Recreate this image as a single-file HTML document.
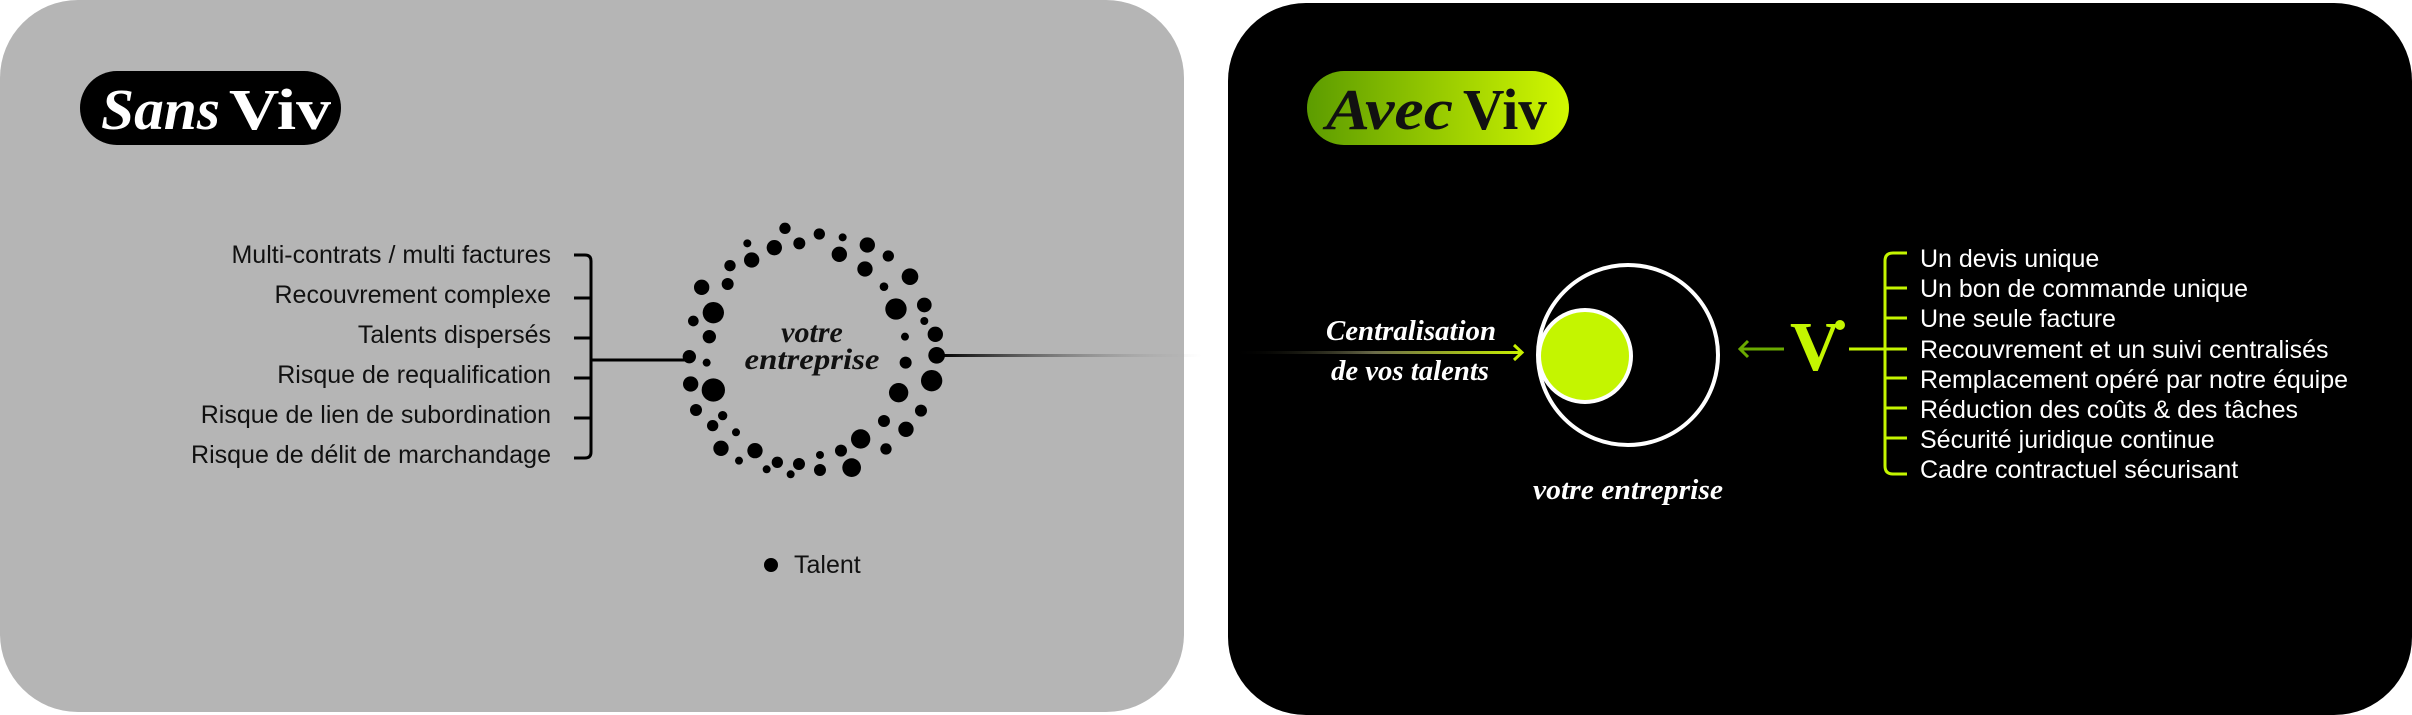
<!DOCTYPE html>
<html><head><meta charset="utf-8"><style>
html,body{margin:0;padding:0;background:#fff;}
body{width:2412px;height:715px;overflow:hidden;position:relative;}
svg{position:absolute;left:0;top:0;}
.s{font-family:"Liberation Sans",sans-serif;font-size:25px;}
.d{font-family:"Liberation Serif",serif;font-style:italic;font-weight:bold;}
</style></head><body>
<svg width="2412" height="715" viewBox="0 0 2412 715">
<defs>
<linearGradient id="pill" x1="0" x2="1" y1="0" y2="0">
<stop offset="0" stop-color="#5c9c00"/><stop offset="1" stop-color="#d2f800"/>
</linearGradient>
<linearGradient id="fade" x1="0" x2="1" y1="0" y2="0">
<stop offset="0" stop-color="#000"/><stop offset="1" stop-color="#b5b5b5" stop-opacity="0"/>
</linearGradient>
<linearGradient id="fade2" x1="0" x2="1" y1="0" y2="0">
<stop offset="0" stop-color="#000" stop-opacity="0"/><stop offset="0.5" stop-color="#6b6b4a"/><stop offset="1" stop-color="#c8f000"/>
</linearGradient>
</defs>
<rect x="0" y="0" width="1184" height="712" rx="78" fill="#b5b5b5"/>
<rect x="1228" y="3" width="1184" height="712" rx="78" fill="#000"/>

<rect x="80" y="71" width="261" height="74" rx="37" fill="#000"/>
<text x="101" y="129" class="d" font-size="58" fill="#fff" textLength="119" lengthAdjust="spacingAndGlyphs">Sans</text>
<text x="229" y="129" font-family="Liberation Serif,serif" font-weight="bold" font-size="58" fill="#fff" textLength="102" lengthAdjust="spacingAndGlyphs">Viv</text>

<g class="s" fill="#111" text-anchor="end">
<text x="551" y="263">Multi-contrats / multi factures</text>
<text x="551" y="303">Recouvrement complexe</text>
<text x="551" y="343">Talents dispersés</text>
<text x="551" y="383">Risque de requalification</text>
<text x="551" y="423">Risque de lien de subordination</text>
<text x="551" y="463">Risque de délit de marchandage</text>
</g>
<g stroke="#000" stroke-width="3" fill="none">
<path d="M574 255 H585 Q591 255 591 261 V452 Q591 458 585 458 H574"/>
<path d="M574 298 H591 M574 338 H591 M574 378 H591 M574 418 H591"/>
<path d="M591 360 H690"/>
</g>
<rect x="942" y="354" width="260" height="3" fill="url(#fade)"/>

<g transform="translate(660,210) scale(0.3333)" fill="#000">
<circle cx="375" cy="55" r="17"/><circle cx="478" cy="72" r="17"/><circle cx="548" cy="82" r="12"/><circle cx="262" cy="100" r="12"/><circle cx="343" cy="113" r="23"/><circle cx="418" cy="100" r="18"/><circle cx="622" cy="105" r="23"/><circle cx="538" cy="133" r="23"/><circle cx="685" cy="138" r="17"/><circle cx="275" cy="150" r="23"/><circle cx="210" cy="167" r="17"/><circle cx="615" cy="177" r="23"/><circle cx="750" cy="200" r="25"/><circle cx="125" cy="232" r="23"/><circle cx="203" cy="222" r="18"/><circle cx="672" cy="230" r="13"/><circle cx="160" cy="308" r="32"/><circle cx="708" cy="297" r="32"/><circle cx="793" cy="285" r="22"/><circle cx="100" cy="333" r="16"/><circle cx="793" cy="333" r="12"/><circle cx="148" cy="380" r="20"/><circle cx="826" cy="373" r="23"/><circle cx="735" cy="380" r="12"/><circle cx="88" cy="440" r="20"/><circle cx="140" cy="458" r="12"/><circle cx="830" cy="436" r="25"/><circle cx="737" cy="458" r="18"/><circle cx="92" cy="522" r="23"/><circle cx="160" cy="540" r="35"/><circle cx="815" cy="512" r="32"/><circle cx="716" cy="548" r="29"/><circle cx="108" cy="600" r="18"/><circle cx="188" cy="617" r="14"/><circle cx="783" cy="602" r="18"/><circle cx="158" cy="647" r="17"/><circle cx="672" cy="633" r="18"/><circle cx="738" cy="658" r="23"/><circle cx="228" cy="667" r="12"/><circle cx="602" cy="687" r="29"/><circle cx="183" cy="715" r="23"/><circle cx="285" cy="722" r="23"/><circle cx="543" cy="722" r="18"/><circle cx="678" cy="717" r="17"/><circle cx="237" cy="752" r="12"/><circle cx="352" cy="757" r="17"/><circle cx="417" cy="762" r="18"/><circle cx="480" cy="735" r="12"/><circle cx="320" cy="778" r="12"/><circle cx="392" cy="793" r="12"/><circle cx="480" cy="780" r="18"/><circle cx="575" cy="773" r="28"/>
</g>
<text x="812" y="342" class="d" font-size="30" fill="#111" text-anchor="middle">votre</text>
<text x="812" y="369" class="d" font-size="30" fill="#111" text-anchor="middle" textLength="135" lengthAdjust="spacingAndGlyphs">entreprise</text>

<circle cx="771" cy="565" r="7" fill="#000"/>
<text x="794" y="573" class="s" fill="#111">Talent</text>

<rect x="1307" y="71" width="262" height="74" rx="37" fill="url(#pill)"/>
<text x="1326" y="129" class="d" font-size="58" fill="#111" textLength="127" lengthAdjust="spacingAndGlyphs">Avec</text>
<text x="1463" y="129" font-family="Liberation Serif,serif" font-weight="bold" font-size="58" fill="#111" textLength="84" lengthAdjust="spacingAndGlyphs">Viv</text>

<text x="1411" y="340" class="d" font-size="28" fill="#fff" text-anchor="middle" textLength="170" lengthAdjust="spacingAndGlyphs">Centralisation</text>
<text x="1410" y="380" class="d" font-size="28" fill="#fff" text-anchor="middle" textLength="158" lengthAdjust="spacingAndGlyphs">de vos talents</text>
<rect x="1230" y="351" width="290" height="3" fill="url(#fade2)"/>
<path d="M1514 345 L1522 352.5 L1514 360" stroke="#c8f000" stroke-width="3" fill="none"/>

<circle cx="1628" cy="355" r="90" fill="none" stroke="#fff" stroke-width="4"/>
<circle cx="1585" cy="356" r="46" fill="#c4f500" stroke="#fff" stroke-width="4"/>
<text x="1628" y="499" class="d" font-size="28" fill="#fff" text-anchor="middle" textLength="190" lengthAdjust="spacingAndGlyphs">votre entreprise</text>

<g stroke="#6aaa00" stroke-width="3" fill="none">
<path d="M1740 349 H1784"/><path d="M1748 341 L1740 349 L1748 357"/>
</g>
<text x="1790" y="370" font-family="Liberation Serif,serif" font-weight="bold" font-size="70" fill="#c4f500">V</text>
<circle cx="1840" cy="325" r="5" fill="#c4f500"/>
<g stroke="#c4f500" stroke-width="3" fill="none">
<path d="M1849 349 H1907"/>
<path d="M1907 253 H1893 Q1885 253 1885 261 V466 Q1885 474 1893 474 H1907"/>
<path d="M1885 288 H1907 M1885 318 H1907 M1885 378 H1907 M1885 408 H1907 M1885 438 H1907"/>
</g>
<g class="s" fill="#fff">
<text x="1920" y="267">Un devis unique</text>
<text x="1920" y="297">Un bon de commande unique</text>
<text x="1920" y="327">Une seule facture</text>
<text x="1920" y="358">Recouvrement et un suivi centralisés</text>
<text x="1920" y="388">Remplacement opéré par notre équipe</text>
<text x="1920" y="418">Réduction des coûts &amp; des tâches</text>
<text x="1920" y="448">Sécurité juridique continue</text>
<text x="1920" y="478">Cadre contractuel sécurisant</text>
</g>
</svg>
</body></html>
